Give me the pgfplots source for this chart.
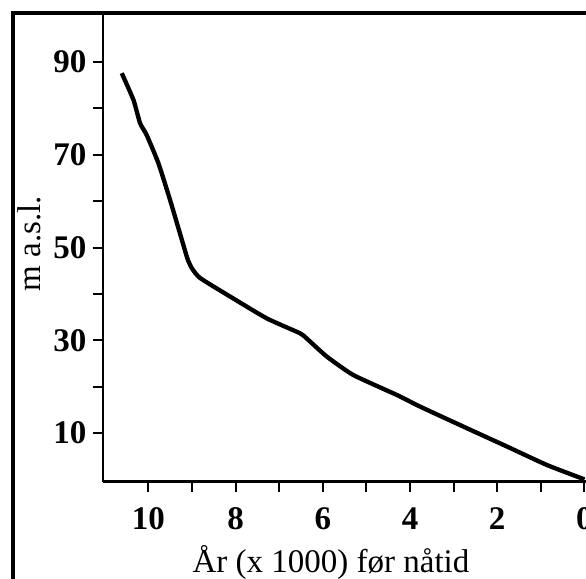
\documentclass[border=0pt]{standalone}
\usepackage{fontspec}
\setmainfont{Liberation Serif}
\usepackage{pgfplots}
\pgfplotsset{compat=1.18}
\begin{document}
\fontsize{9.9}{12}\selectfont
\begin{tikzpicture}[x=0.3pt,y=-0.3pt]
\draw[line width=1.2pt] (13,13) rectangle (700,700);
\coordinate (O) at (103,481.7);
\begin{axis}[
  at={(O)}, anchor=south west,
  scale only axis,
  width=151.5pt, height=140pt,
  x dir=reverse,
  xmin=-0.54, xmax=11.04,
  ymin=-0.5, ymax=100.14,
  axis x line*=bottom, axis y line*=left,
  axis line style={line width=0.8pt, -},
  tick align=outside,
  major tick length=3pt, minor tick length=3pt,
  tick style={line width=0.6pt, black},
  xtick={0,2,4,6,8,10}, minor xtick={1,3,5,7,9},
  ytick={10,30,50,70,90}, minor ytick={20,40,60,80},
  /pgf/number format/assume math mode=true,
  ticklabel style={font=\fontsize{9.9}{12}\selectfont\bfseries},
  xticklabel shift=1.2pt,
  yticklabel shift=-1.5pt,
  xlabel={År (x 1000) før nåtid},
  ylabel={m a.s.l.},
  x label style={at={(axis description cs:0.4515,-0.174)}, anchor=center},
  y label style={at={(axis description cs:-0.1455,0.51)}, anchor=center, rotate=0},
  clip=false,
]
\addplot[line width=1.3pt, black, line join=round, smooth, tension=0.3] coordinates {
(10.61,87.6) (10.34,81.8) (10.19,76.8) (10.04,74.3) (9.77,68.2) (9.50,60.2)
(9.23,51.6) (9.10,47.5) (9.00,45.5) (8.81,43.4) (8.05,39.0) (7.28,34.7)
(6.52,31.5) (6.37,30.4) (5.91,26.5) (5.30,22.5) (4.30,18.2) (3.77,15.7)
(2.78,11.4) (1.78,7.1) (0.86,3.1) (0,0)
};
\end{axis}
\pgfresetboundingbox
\useasboundingbox (0,0) rectangle (586,578);
\end{tikzpicture}
\end{document}
